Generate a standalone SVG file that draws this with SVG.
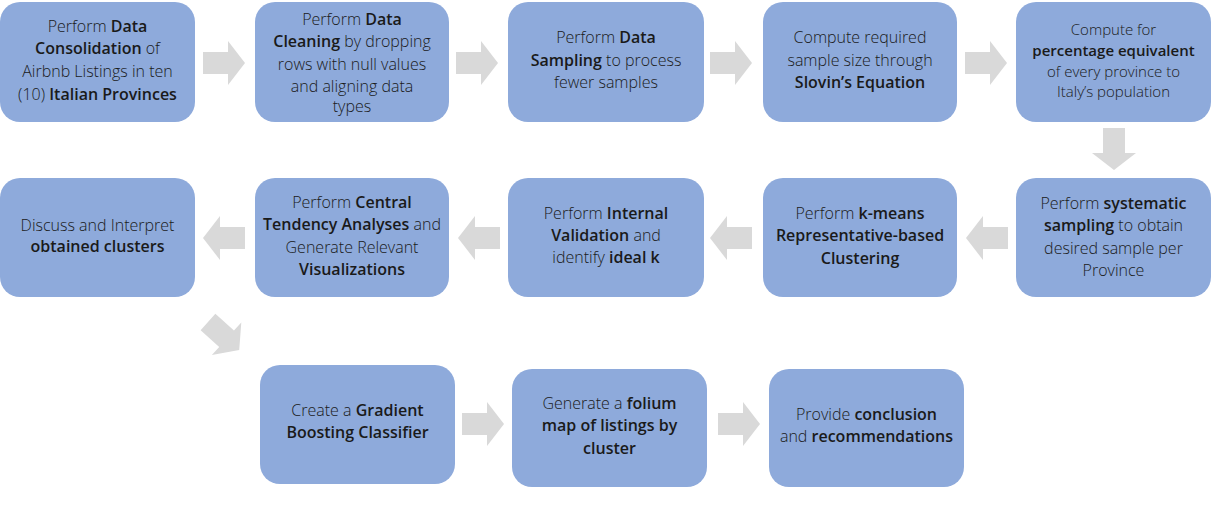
<svg xmlns="http://www.w3.org/2000/svg" width="1211" height="517" viewBox="0 0 1211 517">
<defs>
<style>
.box{fill:#8EAADB;}
.t{font-family:"Open Sans","Liberation Sans",sans-serif;font-size:16px;font-weight:300;fill:#1a1a1a;text-anchor:middle;}
.s{font-size:15px;}
.b{font-weight:600;}
.arr{fill:#D9D9D9;}
</style>
<path id="ra" d="M0,-11 H25 V-22 L42,0 L25,22 V11 H0 Z"/>
</defs>
<rect width="1211" height="517" fill="#ffffff"/>
<g id="connectors" class="arr">
<use href="#ra" transform="translate(203,63)"/>
<use href="#ra" transform="translate(456,63)"/>
<use href="#ra" transform="translate(710,63)"/>
<use href="#ra" transform="translate(965,63)"/>
<use href="#ra" transform="translate(1114,128) rotate(90)"/>
<use href="#ra" transform="translate(1008,238) rotate(180)"/>
<use href="#ra" transform="translate(752,238) rotate(180)"/>
<use href="#ra" transform="translate(500,238) rotate(180)"/>
<use href="#ra" transform="translate(245,238) rotate(180)"/>
<use href="#ra" transform="translate(208,322) rotate(42)"/>
<use href="#ra" transform="translate(462,424)"/>
<use href="#ra" transform="translate(718,424)"/>
</g>
<g id="n1"><rect class="box" x="0" y="2" width="195" height="120" rx="20"/>
<text class="t" x="97.5" y="32">Perform <tspan class="b">Data</tspan></text>
<text class="t" x="97.5" y="54"><tspan class="b">Consolidation</tspan> of</text>
<text class="t" x="97.5" y="77">Airbnb Listings in ten</text>
<text class="t" x="97.5" y="100">(10) <tspan class="b">Italian Provinces</tspan></text></g>
<g id="n2"><rect class="box" x="255" y="2" width="194" height="120" rx="20"/>
<text class="t" x="352" y="25">Perform <tspan class="b">Data</tspan></text>
<text class="t" x="352" y="47"><tspan class="b">Cleaning</tspan> by dropping</text>
<text class="t" x="352" y="70">rows with null values</text>
<text class="t" x="352" y="92">and aligning data</text>
<text class="t" x="352" y="112">types</text></g>
<g id="n3"><rect class="box" x="508" y="2" width="196" height="120" rx="20"/>
<text class="t" x="606" y="43">Perform <tspan class="b">Data</tspan></text>
<text class="t" x="606" y="66"><tspan class="b">Sampling</tspan> to process</text>
<text class="t" x="606" y="88">fewer samples</text></g>
<g id="n4"><rect class="box" x="763" y="2" width="194" height="120" rx="20"/>
<text class="t" x="860" y="43">Compute required</text>
<text class="t" x="860" y="66">sample size through</text>
<text class="t" x="860" y="88"><tspan class="b">Slovin’s Equation</tspan></text></g>
<g id="n5"><rect class="box" x="1016" y="2" width="195" height="120" rx="20"/>
<text class="t s" x="1113.5" y="35">Compute for</text>
<text class="t s b" x="1113.5" y="56">percentage equivalent</text>
<text class="t s" x="1113.5" y="77">of every province to</text>
<text class="t s" x="1113.5" y="97">Italy’s population</text></g>
<g id="n6"><rect class="box" x="1016" y="178" width="195" height="119" rx="20"/>
<text class="t" x="1113.5" y="209">Perform <tspan class="b">systematic</tspan></text>
<text class="t" x="1113.5" y="231"><tspan class="b">sampling</tspan> to obtain</text>
<text class="t" x="1113.5" y="254">desired sample per</text>
<text class="t" x="1113.5" y="276">Province</text></g>
<g id="n7"><rect class="box" x="763" y="178" width="194" height="119" rx="20"/>
<text class="t" x="860" y="219">Perform <tspan class="b">k-means</tspan></text>
<text class="t" x="860" y="241"><tspan class="b">Representative-based</tspan></text>
<text class="t" x="860" y="264"><tspan class="b">Clustering</tspan></text></g>
<g id="n8"><rect class="box" x="508" y="178" width="196" height="119" rx="20"/>
<text class="t" x="606" y="219">Perform <tspan class="b">Internal</tspan></text>
<text class="t" x="606" y="241"><tspan class="b">Validation</tspan> and</text>
<text class="t" x="606" y="263">identify <tspan class="b">ideal k</tspan></text></g>
<g id="n9"><rect class="box" x="255" y="178" width="194" height="119" rx="20"/>
<text class="t" x="352" y="208">Perform <tspan class="b">Central</tspan></text>
<text class="t" x="352" y="230"><tspan class="b">Tendency Analyses</tspan> and</text>
<text class="t" x="352" y="253">Generate Relevant</text>
<text class="t" x="352" y="275"><tspan class="b">Visualizations</tspan></text></g>
<g id="n10"><rect class="box" x="0" y="178" width="195" height="119" rx="20"/>
<text class="t" x="97.5" y="231">Discuss and Interpret</text>
<text class="t" x="97.5" y="252"><tspan class="b">obtained clusters</tspan></text></g>
<g id="n11"><rect class="box" x="260" y="365" width="195" height="119" rx="20"/>
<text class="t" x="357.5" y="416">Create a <tspan class="b">Gradient</tspan></text>
<text class="t" x="357.5" y="438"><tspan class="b">Boosting Classifier</tspan></text></g>
<g id="n12"><rect class="box" x="512" y="369" width="195" height="118" rx="20"/>
<text class="t" x="609.5" y="409">Generate a <tspan class="b">folium</tspan></text>
<text class="t" x="609.5" y="431"><tspan class="b">map of listings by</tspan></text>
<text class="t" x="609.5" y="454"><tspan class="b">cluster</tspan></text></g>
<g id="n13"><rect class="box" x="769" y="369" width="195" height="118" rx="20"/>
<text class="t" x="866.5" y="420">Provide <tspan class="b">conclusion</tspan></text>
<text class="t" x="866.5" y="442">and <tspan class="b">recommendations</tspan></text></g>
</svg>
